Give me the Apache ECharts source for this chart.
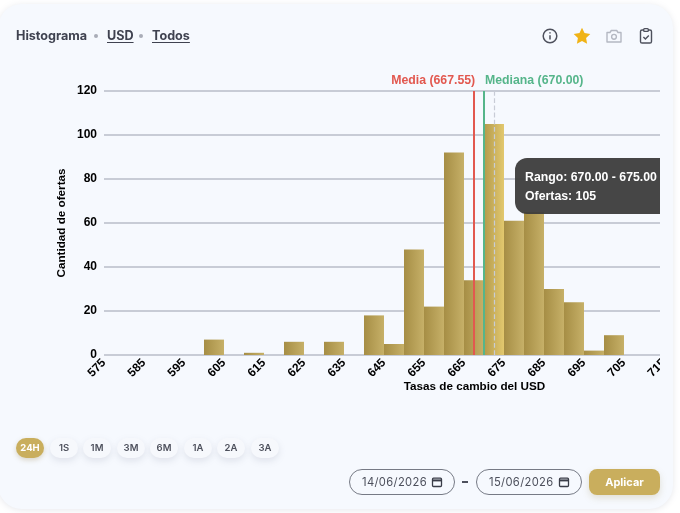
<!DOCTYPE html>
<html lang="es">
<head>
<meta charset="utf-8">
<title>Histograma USD</title>
<script src="https://cdn.jsdelivr.net/npm/echarts@6/dist/echarts.min.js"></script>
<style>
html,body{margin:0;padding:0;background:#fff;width:680px;height:513px;overflow:hidden;font-family:Inter,"Open Sans",sans-serif}
#card{position:absolute;left:-2px;top:4px;width:675px;height:505px;background:#f6f9fe;border-radius:24px;box-shadow:0 1px 6px rgba(120,130,150,.18)}
#chart{position:absolute;left:0;top:0;width:660px;height:513px;overflow:hidden}
.hd{position:absolute;top:28px;font-size:12.6px;font-weight:700;color:#3f4250;line-height:16px;white-space:nowrap}
.hd.u{text-decoration:underline;text-underline-offset:2px}
.dot{position:absolute;top:34px;width:4px;height:4px;border-radius:50%;background:#a9adb8}
.ic{position:absolute;top:26px;width:20px;height:20px}
.pill{position:absolute;top:438px;width:28px;height:20px;border-radius:10px;background:#f6f8fc;box-shadow:0 3px 7px rgba(120,130,150,.18);font-size:9.5px;font-weight:600;color:#4d505c;text-align:center;line-height:20px}
.pill.on{background:#c9ae5d;color:#fff;font-weight:700;box-shadow:0 2px 5px rgba(150,130,70,.3)}
.date{position:absolute;top:469px;height:24px;width:104px;border:1px solid #767a85;border-radius:13px;font-size:11.2px;color:#4d505c;line-height:24px;box-sizing:content-box}
.date span{position:absolute;left:12px;letter-spacing:.35px}
.date svg{position:absolute;left:81px;top:6px}
#dash{position:absolute;left:462px;top:481px;width:6px;height:2px;background:#4d505c}
#apply{position:absolute;left:589px;top:469px;width:71px;height:26px;border-radius:8px;background:#c9ae5d;color:#fff;font-weight:700;font-size:11px;text-align:center;line-height:26px;box-shadow:0 3px 7px rgba(150,130,70,.22)}
</style>
</head>
<body>
<div id="card"></div>
<div id="chart"></div>
<div class="hd" style="left:16px">Histograma</div><div class="dot" style="left:94px"></div>
<div class="hd u" style="left:107px">USD</div><div class="dot" style="left:139px"></div>
<div class="hd u" style="left:152px">Todos</div>
<svg class="ic" style="left:540px" viewBox="0 0 20 20" fill="none" stroke="#4d505c" stroke-width="1.5"><circle cx="10" cy="10" r="6.8"/><path d="M10 9.2v4.2M10 6.2v1.2"/></svg>
<svg class="ic" style="left:572px" viewBox="0 0 20 20"><path fill="#f0b316" d="M10 1.8l2.5 5.3 5.8.8-4.2 4 1 5.8L10 15.1l-5.1 2.6 1-5.8-4.2-4 5.8-.8z"/></svg>
<svg class="ic" style="left:604px" viewBox="0 0 20 20" fill="none" stroke="#b4b8c2" stroke-width="1.4"><path d="M3 6.5h3l1.3-2h5.4l1.3 2h3v9.5H3z" stroke-linejoin="round"/><circle cx="10" cy="10.8" r="2.4"/></svg>
<svg class="ic" style="left:636px" viewBox="0 0 20 20" fill="none" stroke="#4d505c" stroke-width="1.4"><rect x="4.5" y="4" width="11" height="13" rx="1.6"/><rect x="7.7" y="2.6" width="4.6" height="2.8" rx=".8" fill="#f6f9fe"/><path d="M7.4 11l2 2 3.4-3.6"/></svg>
<div id="pills"></div>
<div class="date" style="left:349px"><span>14/06/2026</span><svg width="12" height="12" viewBox="0 0 12 12" fill="none" stroke="#3a3d48" stroke-width="1.3"><rect x="1.5" y="2.2" width="9" height="8.3" rx="1"/><path d="M1.5 4.4h9" stroke-width="2"/></svg></div>
<div id="dash"></div>
<div class="date" style="left:476px"><span>15/06/2026</span><svg width="12" height="12" viewBox="0 0 12 12" fill="none" stroke="#3a3d48" stroke-width="1.3"><rect x="1.5" y="2.2" width="9" height="8.3" rx="1"/><path d="M1.5 4.4h9" stroke-width="2"/></svg></div>
<div id="apply">Aplicar</div>
<script>
// Data
const binStarts = [575,580,585,590,595,600,605,610,615,620,625,630,635,640,645,650,655,660,665,670,675,680,685,690,695,700,705,710];
const offerCounts = [0,0,0,0,0,7,0,1,0,6,0,6,0,18,5,48,22,92,34,105,61,65,30,24,2,9,0,0];
const binWidth = 5;
const meanRate = 667.55;
const medianRate = 670;
const activeBinStart = 670;
const periodLabels = ['24H','1S','1M','3M','6M','1A','2A','3A'];
const periodCentres = [30,64,97,131,164,198,231,265];

document.getElementById('pills').innerHTML = periodLabels.map((p,i)=>
  `<div class="pill${i===0?' on':''}" style="left:${periodCentres[i]-14}px">${p}</div>`).join('');

const grad = (a,b)=>({type:'linear',x:0,y:0,x2:1,y2:0,colorStops:[{offset:0,color:a},{offset:1,color:b}]});
const barFill = grad('#a68e45','#c6b068');
const barActive = grad('#b39a4c','#e2c86e');
const activeIndex = binStarts.indexOf(activeBinStart);
const font = 'Liberation Sans, Arial, sans-serif';

const chart = echarts.init(document.getElementById('chart'), null, {renderer:'canvas'});
chart.setOption({
  animation:false,
  backgroundColor:'transparent',
  grid:{left:104,top:91,width:560,height:264,containLabel:false,outerBoundsMode:'none'},
  xAxis:{
    type:'value',min:575,max:715,interval:10,
    name:'Tasas de cambio del USD',nameLocation:'middle',nameGap:26,nameMoveOverlap:false,
    nameTextStyle:{color:'#000',fontWeight:'bold',fontSize:11.7,fontFamily:font,padding:[0,0,0,181]},
    axisLine:{show:false},axisTick:{show:false},splitLine:{show:false},
    axisLabel:{rotate:45,margin:6,color:'#000',fontWeight:'bold',fontSize:12,fontFamily:font,showMinLabel:true,showMaxLabel:true,hideOverlap:false}
  },
  yAxis:{
    type:'value',min:0,max:120,interval:20,
    name:'Cantidad de ofertas',nameLocation:'middle',nameGap:36,nameMoveOverlap:false,
    nameTextStyle:{color:'#000',fontWeight:'bold',fontSize:11.7,fontFamily:font},
    axisLine:{show:false},axisTick:{show:false},
    splitLine:{lineStyle:{color:'#b9bdc9',width:1.5}},
    axisLabel:{margin:7,color:'#000',fontWeight:'bold',fontSize:12,fontFamily:font}
  },
  tooltip:{
    trigger:'axis',
    axisPointer:{type:'line',snap:true,lineStyle:{color:'#c8ccd6',type:'dashed',width:1.2},label:{show:false},z:20},
    transitionDuration:0,
    confine:false,
    alwaysShowContent:true,
    backgroundColor:'rgba(60,60,60,.95)',
    borderWidth:0,
    padding:[10,10],
    extraCssText:'border-radius:12px;box-shadow:none;width:140px;height:36px;line-height:19px;white-space:nowrap;',
    textStyle:{color:'#fff',fontSize:12.3,fontWeight:'bold',fontFamily:font},
    position:(pt)=>[pt[0]+21,158],
    formatter:(ps)=>{
      const s = binStarts[ps[0].dataIndex];
      return `Rango: ${s.toFixed(2)} - ${(s+binWidth).toFixed(2)}<br>Ofertas: ${ps[0].value[1]}`;
    }
  },
  series:[{
    type:'bar',
    barWidth:20,
    z:5,
    emphasis:{disabled:true},
    itemStyle:{color:barFill},
    data:binStarts.map((s,i)=>({
      value:[s+binWidth/2,offerCounts[i]],
      itemStyle:{color:i===activeIndex?barActive:barFill}
    })),
    markLine:{
      silent:true,symbol:'none',animation:false,z:10,
      data:[
        {xAxis:meanRate,lineStyle:{color:'#e2584f',width:2,type:'solid'},
         label:{show:true,position:'end',formatter:`Media (${meanRate.toFixed(2)})`,color:'#e2584f',fontWeight:'bold',fontSize:12.3,fontFamily:font,align:'right',offset:[1,1]}},
        {xAxis:medianRate,lineStyle:{color:'#55b58a',width:2,type:'solid'},
         label:{show:true,position:'end',formatter:`Mediana (${medianRate.toFixed(2)})`,color:'#55b58a',fontWeight:'bold',fontSize:12.3,fontFamily:font,align:'left',offset:[1,1]}}
      ]
    }
  }]
});
chart.dispatchAction({type:'showTip',seriesIndex:0,dataIndex:activeIndex});
</script>
</body>
</html>
